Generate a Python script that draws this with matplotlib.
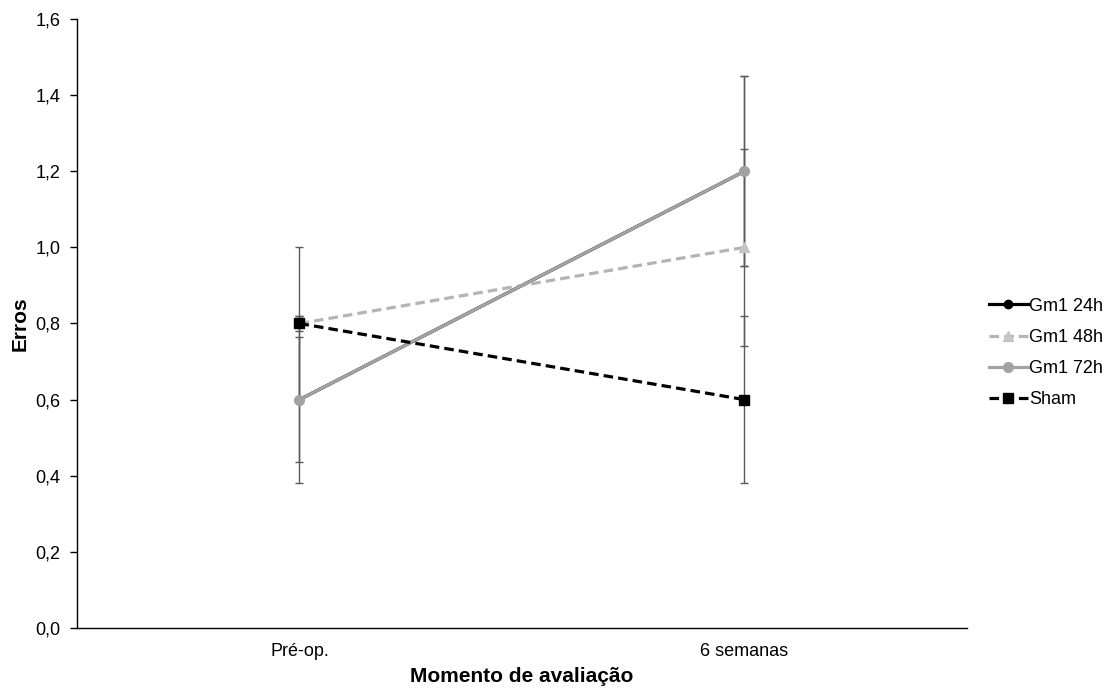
import matplotlib.pyplot as plt
from matplotlib.ticker import FuncFormatter

plt.rcParams['font.family'] = ['Liberation Sans', 'DejaVu Sans']

categories = ['Pré-op.', '6 semanas']
series_names = ['Gm1 24h', 'Gm1 48h', 'Gm1 72h', 'Sham']
gm1_24h = [0.6, 1.2]
gm1_24h_err = [0.165, 0.25]
gm1_48h = [0.8, 1.0]
gm1_48h_err = [0.2, 0.258]
gm1_72h = [0.6, 1.2]
gm1_72h_err = [0.22, 0.25]
sham = [0.8, 0.6]
sham_err = [0.02, 0.22]
y_ticks = [0.0, 0.2, 0.4, 0.6, 0.8, 1.0, 1.2, 1.4, 1.6]

fig = plt.figure(figsize=(11.12, 6.88), dpi=100)
ax = fig.add_axes([0.0692, 0.0872, 0.8004, 0.8852])

x = list(range(len(categories)))

styles = [
    (gm1_24h, gm1_24h_err, dict(color='black', linestyle='-', marker='o', markersize=6)),
    (gm1_48h, gm1_48h_err, dict(color='#b4b4b4', linestyle=(0, (3, 1.6)), marker='^',
                                markersize=7, markerfacecolor='#c4c4c4', markeredgecolor='#c4c4c4')),
    (gm1_72h, gm1_72h_err, dict(color='#a2a2a2', linestyle='-', marker='o', markersize=7)),
    (sham, sham_err, dict(color='black', linestyle=(0, (3, 1.6)), marker='s', markersize=6.5)),
]

for vals, errs, _ in styles:
    ax.errorbar(x, vals, yerr=errs, fmt='none', ecolor='#5a5a5a', elinewidth=1,
                capsize=3, capthick=1, zorder=1)

for (vals, errs, st), name in zip(styles, series_names):
    ax.plot(x, vals, linewidth=2.3, label=name, zorder=2, **st)

ax.set_xlim(-0.5, 1.5)
ax.set_ylim(0, 1.6)
ax.set_xticks(x)
ax.set_xticklabels(categories, fontsize=13)
ax.tick_params(axis='x', length=0, pad=11)
ax.set_yticks(y_ticks)
ax.yaxis.set_major_formatter(FuncFormatter(lambda v, p: f'{v:.1f}'.replace('.', ',')))
ax.tick_params(axis='y', length=5, width=1, labelsize=13, pad=7)

for side in ['top', 'right']:
    ax.spines[side].set_visible(False)
for side in ['left', 'bottom']:
    ax.spines[side].set_linewidth(1)

ax.set_xlabel('Momento de avaliação', fontsize=15, fontweight='bold', labelpad=5)
ax.set_ylabel('Erros', fontsize=15, fontweight='bold', labelpad=4)

fig.legend(loc='center left', bbox_to_anchor=(0.889, 0.487), frameon=False,
           fontsize=13, handlelength=2.2, handletextpad=0.05, labelspacing=0.78,
           borderaxespad=0, borderpad=0)

fig.savefig('out.png', dpi=100)
